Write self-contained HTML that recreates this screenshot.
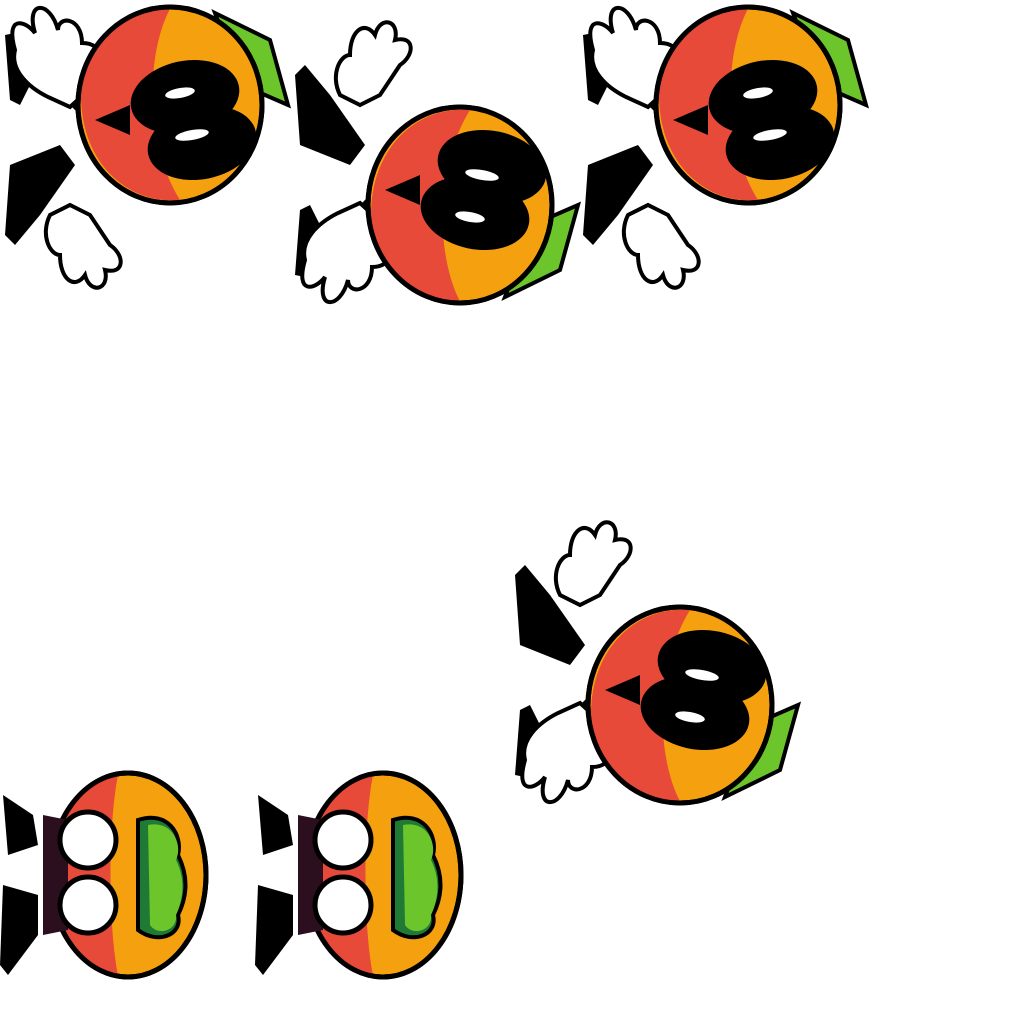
<!DOCTYPE html>
<html><head><meta charset="utf-8"><style>html,body{margin:0;padding:0;background:#fff;width:1024px;height:1024px;overflow:hidden}</style></head>
<body>
<svg width="1024" height="1024" viewBox="0 0 1024 1024">
<defs>
<g id="spriteA">
  <path d="M-165,-70 L-140,-75 L-130,-40 L-150,0 L-160,-5 Z" fill="#000"/>
  <path d="M-160,60 L-110,40 L-95,60 L-130,110 L-155,140 L-165,130 Z" fill="#000"/>
  <path d="M-120,-20 L-80,20 L-60,10 L-95,-40 Z" fill="#000"/>
  <path d="M-155,-55 C-165,-90 -145,-85 -135,-72 C-145,-105 -120,-105 -112,-75 C-112,-90 -88,-88 -88,-62 C-65,-62 -65,-40 -78,-18 L-100,2 L-122,-8 C-142,-18 -160,-35 -155,-55 Z" fill="#fff" stroke="#000" stroke-width="4"/>
  <path d="M-120,110 C-130,130 -120,150 -110,150 C-110,175 -95,185 -85,170 C-80,190 -60,185 -65,165 C-45,170 -45,150 -60,140 L-80,110 L-100,100 Z" fill="#fff" stroke="#000" stroke-width="4"/>
  <path d="M45,-92 L100,-65 L118,0 L72,-20 Z" fill="#6cc52a" stroke="#000" stroke-width="4"/>
  <ellipse cx="0" cy="0" rx="92" ry="98" fill="#f5a00f" stroke="#000" stroke-width="5"/>
  <path d="M-89,-10 C-84,-70 -40,-97 0,-96 C-20,-60 -30,30 10,95 C-40,100 -89,60 -89,-10 Z" fill="#e84a3a"/>
  <ellipse cx="0" cy="0" rx="92" ry="98" fill="none" stroke="#000" stroke-width="5"/>
  <path d="M-40,0 L-75,15 L-40,30 Z" fill="#000"/>
  <ellipse cx="15" cy="-8" rx="55" ry="36" transform="rotate(-12 15 -8)" fill="#000"/>
  <ellipse cx="32" cy="38" rx="55" ry="36" transform="rotate(-12 32 38)" fill="#000"/>
  <ellipse cx="10" cy="-12" rx="15" ry="5" transform="rotate(-10 10 -12)" fill="#fff"/>
  <ellipse cx="22" cy="30" rx="17" ry="5" transform="rotate(-10 22 30)" fill="#fff"/>
</g>
<g id="spriteC">
  <path d="M-125,-80 L-95,-60 L-90,-30 L-120,-20 Z" fill="#000"/>
  <path d="M-125,10 L-90,20 L-90,60 L-120,100 L-128,90 Z" fill="#000"/>
  <ellipse cx="0" cy="0" rx="78" ry="102" fill="#f5a00f" stroke="#000" stroke-width="5"/>
  <path d="M-75,0 C-75,-70 -40,-100 -10,-100 C-20,-50 -20,50 -10,100 C-45,100 -75,60 -75,0 Z" fill="#e84a3a"/>
  <ellipse cx="0" cy="0" rx="78" ry="102" fill="none" stroke="#000" stroke-width="5"/>
  <path d="M-85,-60 L-60,-55 L-60,55 L-85,60 Z" fill="#2b0f1f"/>
  <circle cx="-40" cy="-35" r="28" fill="#fff" stroke="#000" stroke-width="5"/>
  <circle cx="-40" cy="30" r="28" fill="#fff" stroke="#000" stroke-width="5"/>
  <path d="M10,-55 C40,-65 55,-40 50,-20 C60,0 60,20 50,40 C55,60 30,70 10,55 Z" fill="#1e7a35" stroke="#000" stroke-width="4"/>
  <path d="M20,-50 C45,-55 55,-30 48,-15 C58,5 55,25 48,40 C50,55 30,62 22,50 Z" fill="#6cc52a"/>
</g>
</defs>
<g transform="translate(170,105)"><use href="#spriteA"/></g>
<g transform="translate(460,205) scale(1,-1)"><use href="#spriteA"/></g>
<g transform="translate(748,105)"><use href="#spriteA"/></g>
<g transform="translate(680,705) scale(1,-1)"><use href="#spriteA"/></g>
<g transform="translate(128,875)"><use href="#spriteC"/></g>
<g transform="translate(383,875)"><use href="#spriteC"/></g>
</svg>
</body></html>
